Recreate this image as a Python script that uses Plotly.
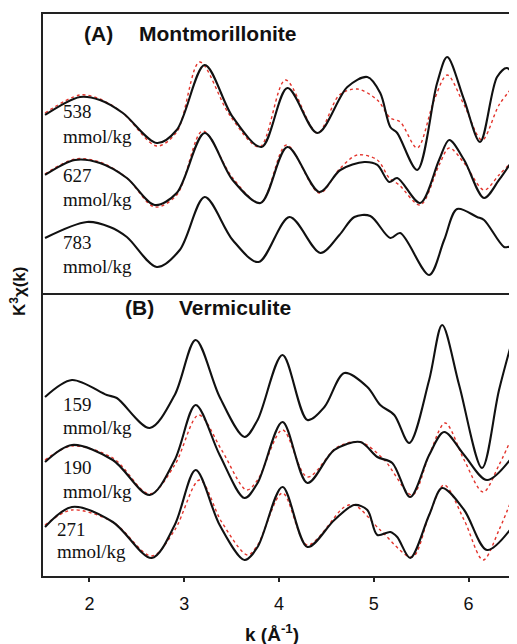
import plotly.graph_objects as go

# ---------------- Panel A: Montmorillonite ----------------
k_a538 = [1.532, 1.900, 2.111, 2.353, 2.711, 2.921, 3.216, 3.511, 3.816, 4.089, 4.405, 4.721, 4.932,
          5.068, 5.174, 5.247, 5.458, 5.668, 5.774, 5.953, 6.121, 6.300, 6.405, 6.500]
y_a538 = [17.9, 19.7, 19.4, 18.1, 15.1, 16.4, 22.9, 17.7, 14.7, 20.6, 16.1, 20.7, 21.7,
          20.1, 16.7, 16.1, 12.4, 21.1, 23.7, 19.4, 15.2, 21.7, 22.6, 21.4]
k_a538_fit = [1.532, 1.900, 2.111, 2.353, 2.711, 2.921, 3.163, 3.479, 3.795, 4.068, 4.405, 4.637, 4.826,
              5.037, 5.174, 5.279, 5.458, 5.637, 5.774, 5.953, 6.142, 6.321, 6.500]
y_a538_fit = [18.1, 19.9, 19.5, 18.1, 14.8, 16.2, 23.2, 17.9, 14.7, 21.4, 16.1, 19.9, 20.5,
              19.4, 17.6, 17.2, 14.6, 19.4, 21.9, 18.9, 15.4, 18.9, 21.1]

k_a627 = [1.532, 1.847, 2.111, 2.395, 2.689, 2.921, 3.216, 3.511, 3.805, 4.089, 4.426, 4.647, 4.900,
          5.037, 5.163, 5.247, 5.489, 5.689, 5.795, 5.953, 6.163, 6.321, 6.500]
y_a627 = [11.9, 13.4, 13.1, 11.6, 8.9, 10.1, 16.1, 11.4, 9.1, 14.7, 10.2, 12.4, 13.2,
          12.9, 11.2, 11.6, 9.1, 13.4, 15.4, 13.4, 9.6, 11.4, 13.9]
k_a627_fit = [1.532, 1.847, 2.111, 2.395, 2.689, 2.921, 3.195, 3.511, 3.805, 4.079, 4.426, 4.647, 4.826,
              5.037, 5.163, 5.268, 5.489, 5.689, 5.795, 5.953, 6.163, 6.321, 6.500]
y_a627_fit = [12.0, 13.5, 13.2, 11.6, 8.7, 9.9, 16.3, 11.6, 9.1, 14.9, 10.1, 12.6, 13.9,
              13.4, 11.6, 10.9, 8.9, 12.9, 14.6, 13.1, 10.4, 11.9, 13.7]

k_a783 = [1.532, 1.974, 2.216, 2.395, 2.711, 2.953, 3.216, 3.511, 3.784, 4.111, 4.437, 4.637, 4.795,
          4.963, 5.174, 5.279, 5.584, 5.742, 5.879, 6.089, 6.163, 6.374, 6.437, 6.500]
y_a783 = [5.6, 7.2, 6.7, 5.7, 2.7, 4.4, 9.7, 5.4, 3.2, 7.7, 4.1, 5.9, 7.7,
          7.8, 5.6, 6.1, 1.9, 5.4, 8.5, 7.7, 7.4, 4.7, 4.7, 4.2]

# ---------------- Panel B: Vermiculite ----------------
k_b159 = [1.532, 1.816, 2.184, 2.289, 2.637, 2.900, 3.121, 3.374, 3.637, 3.774, 4.037, 4.300, 4.479,
          4.689, 4.932, 5.068, 5.216, 5.374, 5.584, 5.721, 5.900, 6.142, 6.321, 6.500]
y_b159 = [18.0, 19.7, 18.2, 17.9, 14.9, 18.2, 23.7, 18.0, 14.0, 15.7, 22.2, 15.7, 17.0,
          20.4, 19.0, 17.2, 16.2, 13.4, 19.7, 25.2, 19.2, 10.9, 18.7, 25.0]

k_b190 = [1.532, 1.816, 2.247, 2.637, 2.900, 3.121, 3.374, 3.637, 3.774, 4.037, 4.300, 4.584, 4.858,
          5.037, 5.195, 5.384, 5.584, 5.742, 5.953, 6.195, 6.500]
y_b190 = [11.5, 13.2, 11.7, 8.2, 11.7, 17.2, 12.2, 7.9, 9.4, 15.5, 9.4, 12.7, 13.5,
          12.0, 11.4, 8.0, 12.2, 14.5, 12.2, 9.7, 12.5]
k_b190_fit = [1.532, 1.816, 2.247, 2.637, 2.900, 3.153, 3.395, 3.658, 3.774, 4.037, 4.300, 4.616, 4.858,
              5.111, 5.405, 5.584, 5.753, 5.953, 6.153, 6.321, 6.500]
y_b190_fit = [11.7, 13.1, 11.9, 8.3, 11.2, 16.2, 12.7, 8.7, 9.7, 14.7, 10.0, 13.0, 13.5,
              11.7, 8.2, 12.2, 15.4, 11.7, 8.5, 11.2, 14.9]

k_b271 = [1.532, 1.816, 2.247, 2.658, 2.900, 3.121, 3.374, 3.637, 3.774, 4.037, 4.300, 4.584, 4.795,
          4.932, 5.037, 5.174, 5.247, 5.384, 5.584, 5.721, 5.953, 6.195, 6.500]
y_b271 = [5.0, 7.0, 5.5, 1.9, 5.2, 10.7, 5.2, 1.7, 3.0, 9.0, 3.0, 5.7, 7.2,
          6.7, 4.2, 4.5, 4.0, 1.9, 6.2, 8.9, 6.7, 2.7, 5.5]
k_b271_fit = [1.532, 1.816, 2.247, 2.658, 2.900, 3.163, 3.395, 3.668, 3.774, 4.037, 4.300, 4.689, 4.795,
              5.068, 5.405, 5.584, 5.742, 5.953, 6.153, 6.321, 6.500]
y_b271_fit = [5.2, 6.7, 5.5, 2.1, 4.7, 9.7, 5.5, 2.2, 3.2, 8.4, 3.2, 7.0, 7.2,
              4.7, 2.0, 6.2, 9.2, 5.7, 1.7, 4.7, 8.9]

x_ticks = [2, 3, 4, 5, 6]

labels_a = [("538", 18.2), ("mmol/kg", 15.7), ("627", 11.8), ("mmol/kg", 9.4), ("783", 5.1), ("mmol/kg", 2.7)]
labels_b = [("159", 17.2), ("mmol/kg", 14.9), ("190", 10.9), ("mmol/kg", 8.5), ("271", 4.7), ("mmol/kg", 2.5)]

fig = go.Figure()

def data_line(k, y, ax, fit=False):
    if fit:
        line = dict(color="#e3342c", width=1.4, dash="dot", shape="spline", smoothing=0.9)
    else:
        line = dict(color="#111111", width=2.1, shape="spline", smoothing=0.9)
    fig.add_trace(go.Scatter(x=k, y=y, mode="lines", line=line, xaxis="x" if ax == "A" else "x2",
                             yaxis="y" if ax == "A" else "y2", showlegend=False, hoverinfo="skip"))

data_line(k_a538_fit, y_a538_fit, "A", True)
data_line(k_a627_fit, y_a627_fit, "A", True)
data_line(k_a538, y_a538, "A")
data_line(k_a627, y_a627, "A")
data_line(k_a783, y_a783, "A")
data_line(k_b190_fit, y_b190_fit, "B", True)
data_line(k_b271_fit, y_b271_fit, "B", True)
data_line(k_b159, y_b159, "B")
data_line(k_b190, y_b190, "B")
data_line(k_b271, y_b271, "B")

annos = []
serif = dict(family="Liberation Serif, Times New Roman, serif", size=19, color="#111")
for i, (t, yv) in enumerate(labels_a):
    annos.append(dict(x=1.70, y=yv, xref="x", yref="y", text=t, showarrow=False,
                      xanchor="left", yanchor="middle", font=serif))
for i, (t, yv) in enumerate(labels_b):
    xv = 1.64 if i >= 4 else 1.70
    annos.append(dict(x=xv, y=yv, xref="x2", yref="y2", text=t, showarrow=False,
                      xanchor="left", yanchor="middle", font=serif))

bold = dict(family="Liberation Sans, Arial, sans-serif", size=21, color="#111")
annos += [
    dict(x=1.92, y=26.1, xref="x", yref="y", text="<b>(A)</b>", showarrow=False, xanchor="left", yanchor="middle", font=bold),
    dict(x=2.50, y=26.1, xref="x", yref="y", text="<b>Montmorillonite</b>", showarrow=False, xanchor="left", yanchor="middle", font=bold),
    dict(x=2.35, y=26.9, xref="x2", yref="y2", text="<b>(B)</b>", showarrow=False, xanchor="left", yanchor="middle", font=bold),
    dict(x=2.92, y=26.9, xref="x2", yref="y2", text="<b>Vermiculite</b>", showarrow=False, xanchor="left", yanchor="middle", font=bold),
]

sans = "Liberation Sans, Arial, sans-serif"
dom = 0.5018
# page body has an 8px margin: figure is 509x636 so that it sits inside the 517x644 window
W, H = 509, 636
ml, mr, mt, mb = 34, 1, 5, 67
pw, ph = W - ml - mr, H - mt - mb

annos += [
    dict(x=(264 - ml) / pw, y=-(625 - mt - ph) / ph, xref="paper", yref="paper",
         text="<b>k (Å<sup>-1</sup>)</b>", showarrow=False, xanchor="center", yanchor="middle",
         font=dict(family=sans, size=19, color="#111")),
    dict(x=(10 - ml) / pw, y=1 - (284 - mt) / ph, xref="paper", yref="paper",
         text="<b>K<sup>3</sup>χ(k)</b>", textangle=-90, showarrow=False, xanchor="center", yanchor="middle",
         font=dict(family=sans, size=17, color="#111")),
]

shapes = [
    dict(type="rect", xref="paper", yref="paper", x0=0, x1=1, y0=dom, y1=1, line=dict(color="#222", width=2)),
    dict(type="rect", xref="paper", yref="paper", x0=0, x1=1, y0=0, y1=dom, line=dict(color="#222", width=2)),
]

noline = dict(showline=False, showgrid=False, zeroline=False)

fig.update_layout(
    width=W, height=H,
    margin=dict(l=ml, r=mr, t=mt, b=mb, autoexpand=False),
    paper_bgcolor="white", plot_bgcolor="white",
    xaxis=dict(range=[1.5, 6.5], anchor="y", showticklabels=False, ticks="", **noline),
    xaxis2=dict(range=[1.5, 6.5], anchor="y2", matches="x", tickvals=x_ticks, ticks="outside", ticklen=4,
                tickwidth=1.5, tickcolor="#222", ticklabelstandoff=6, automargin=False,
                tickfont=dict(family=sans, size=18, color="#111"), **noline),
    yaxis=dict(domain=[dom, 1], range=[0, 28.1], showticklabels=False, ticks="", **noline),
    yaxis2=dict(domain=[0, dom], range=[0, 28.3], showticklabels=False, ticks="", **noline),
    annotations=annos,
    shapes=shapes,
)

fig.write_html("out.html")
